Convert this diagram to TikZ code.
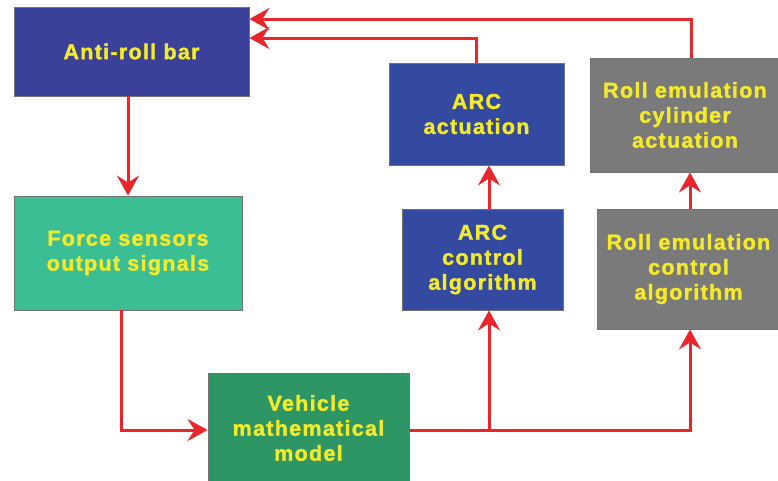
\documentclass[tikz,border=0pt]{standalone}
\usepackage{fontspec}
\setmainfont{Liberation Sans}[LetterSpace=6,BoldFeatures={FakeBold=1.6}]
\usetikzlibrary{arrows.meta}
\definecolor{arcred}{HTML}{E8262C}
\definecolor{txtyel}{HTML}{F2EA2A}
\definecolor{bluea}{HTML}{3B4098}
\definecolor{blueb}{HTML}{3449A0}
\definecolor{teal1}{HTML}{3CBE94}
\definecolor{green1}{HTML}{2E9664}
\definecolor{grey1}{HTML}{7A7A7A}
\tikzset{
  blk/.style={draw=black!55, line width=0.8pt, rectangle, inner sep=0pt,
    text=txtyel, font=\fontsize{21.5}{25}\selectfont\bfseries, align=center},
  arr/.style={draw=arcred, line width=3pt,
    -{Stealth[length=20pt,width=22pt,inset=7pt]}},
  ln/.style={draw=arcred, line width=3pt},
}
\begin{document}
\begin{tikzpicture}[x=1pt,y=-1pt]
\useasboundingbox[fill=white] (0,0) rectangle (778,480);
\node[blk, fill=bluea, minimum width=235pt, minimum height=89pt] (arb) at (131.5,51.5) {Anti-roll bar};
\node[blk, fill=teal1, minimum width=228pt, minimum height=114pt] (fs) at (128,253) {Force sensors\\output signals};
\node[blk, fill=green1, minimum width=201pt, minimum height=110pt] (veh) at (308.5,428) {Vehicle\\mathematical\\model};
\node[blk, fill=blueb, minimum width=175pt, minimum height=102pt] (arca) at (476.5,114) {ARC\\actuation};
\node[blk, fill=grey1, minimum width=190pt, minimum height=114pt] (rca) at (685,115) {Roll emulation\\cylinder\\actuation};
\node[blk, fill=blueb, minimum width=161pt, minimum height=101pt] (arcc) at (482.5,259.5) {ARC\\control\\algorithm};
\node[blk, fill=grey1, minimum width=183pt, minimum height=120pt] (rcc) at (688.5,269) {Roll emulation\\control\\algorithm};
\coordinate (j1) at (489,430);
\coordinate (j2) at (690,430);
\coordinate (c1) at (121,430);
\coordinate (t1) at (476,38);
\coordinate (t2) at (691,19);
% arrows
\draw[arr] ([xshift=-3.5pt]arb.south) -- ([xshift=-3.5pt]arb.south |- fs.north);
\draw[arr] (c1 |- fs.south) -- (c1) -- (c1 -| veh.west);
\draw[ln] (j1 -| veh.east) -- (j1);
\draw[arr] (j1) -- (j1 |- arcc.south);
\draw[arr] (j1) -- (j2) -- (j2 |- rcc.south);
\draw[arr] (j1 |- arcc.north) -- (j1 |- arca.south);
\draw[arr] (j2 |- rcc.north) -- (j2 |- rca.south);
\draw[arr] (t1 |- arca.north) -- (t1) -- (t1 -| arb.east);
\draw[arr] (t2 |- rca.north) -- (t2) -- (t2 -| arb.east);
\end{tikzpicture}
\end{document}
